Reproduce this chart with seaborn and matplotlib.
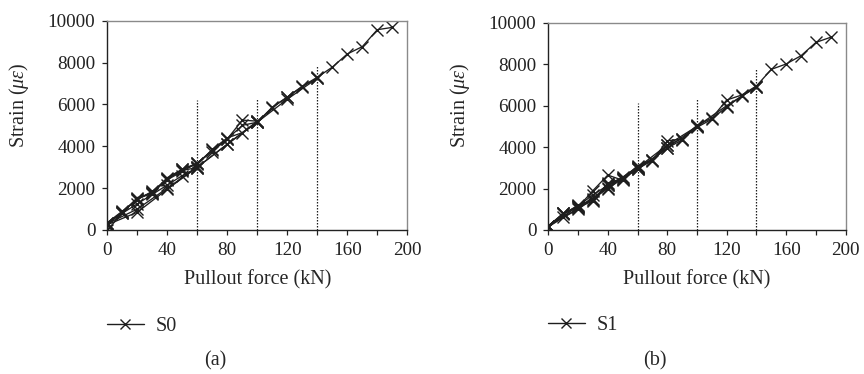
import numpy as np
import pandas as pd
import matplotlib
matplotlib.use("Agg")
import matplotlib.pyplot as plt
from matplotlib.lines import Line2D
import seaborn as sns

# loading / unloading cycles, force in kN, strain in micro-strain
f_load1 = [0, 10, 20, 30, 40, 50, 60]
f_unload1 = [60, 50, 40, 30, 20, 10, 0]
f_load2 = [0, 10, 20, 30, 40, 50, 60, 70, 80, 90, 100]
f_unload2 = [100, 80, 60, 40, 20, 0]
f_load3 = [0, 10, 20, 30, 40, 50, 60, 70, 80, 90, 100, 110, 120, 130, 140]
f_unload3 = [140, 120, 100, 80, 60, 40, 20, 0]
f_load4 = [0, 10, 20, 30, 40, 50, 60, 70, 80, 90, 100, 110, 120, 130, 140,
           150, 160, 170, 180, 190]

s0_load1 = [0, 800, 1550, 1750, 2450, 2850, 2980]
s0_unload1 = [2980, 2600, 2150, 1700, 1250, 800, 350]
s0_load2 = [350, 900, 1450, 1850, 2400, 2800, 3200, 3750, 4350, 5250, 5200]
s0_unload2 = [5200, 4100, 3000, 2000, 1000, 300]
s0_load3 = [300, 850, 1500, 1800, 2500, 2900, 3150, 3850, 4400, 4650, 5150,
            5850, 6350, 6850, 7250]
s0_unload3 = [7250, 6250, 5150, 4100, 3000, 1950, 850, 250]
s0_load4 = [250, 850, 1500, 1750, 2450, 2900, 3200, 3800, 4350, 5000, 5150,
            5870, 6350, 6870, 7300, 7780, 8410, 8760, 9570, 9680]

s1_load1 = [150, 800, 1100, 1900, 2650, 2400, 3050]
s1_unload1 = [3050, 2550, 2150, 1700, 1150, 650, 200]
s1_load2 = [200, 750, 1200, 1450, 2250, 2500, 3000, 3400, 3950, 4350, 5000]
s1_unload2 = [5000, 4100, 3000, 2050, 1050, 150]
s1_load3 = [150, 800, 1150, 1500, 2150, 2450, 2950, 3350, 4300, 4400, 4950,
            5350, 5950, 6450, 6900]
s1_unload3 = [6900, 6000, 5000, 3950, 2950, 2000, 1000, 200]
s1_load4 = [200, 800, 1100, 1400, 2200, 2450, 3100, 3400, 4100, 4400, 5050,
            5400, 6270, 6510, 6950, 7750, 8010, 8410, 9050, 9300]

# dotted marks at the unloading forces
vline_x = [60, 100, 140]
s0_vline_top = [6200, 6300, 7850]
s1_vline_top = [6150, 6320, 7830]

forces = [f_load1, f_unload1, f_load2, f_unload2, f_load3, f_unload3, f_load4]


def make_df(strains):
    rows = []
    for i, (f, s) in enumerate(zip(forces, strains)):
        for a, b in zip(f, s):
            rows.append((i, a, b))
    return pd.DataFrame(rows, columns=["seg", "force", "strain"])


df0 = make_df([s0_load1, s0_unload1, s0_load2, s0_unload2, s0_load3, s0_unload3, s0_load4])
df1 = make_df([s1_load1, s1_unload1, s1_load2, s1_unload2, s1_load3, s1_unload3, s1_load4])

sns.set_style("ticks")
plt.rcParams["font.family"] = ["Liberation Serif", "DejaVu Serif"]
plt.rcParams["mathtext.fontset"] = "custom"
plt.rcParams["mathtext.it"] = "Liberation Serif:italic"
plt.rcParams["mathtext.rm"] = "Liberation Serif"

fig = plt.figure(figsize=(8.64, 3.74), dpi=100)
ax0 = fig.add_axes([107.3 / 864, 1 - 230 / 374, 300 / 864, 209.3 / 374])
ax1 = fig.add_axes([548.3 / 864, 1 - 230 / 374, 297.4 / 864, 207.3 / 374])

lc = "#1e1e1e"
fs = 14.5
panels = [(ax0, df0, s0_vline_top, "S0", "(a)", 300, 209.3),
          (ax1, df1, s1_vline_top, "S1", "(b)", 297.4, 207.3)]
for ax, df, vtop, name, cap, wpx, hpx in panels:
    sns.lineplot(data=df, x="force", y="strain", units="seg", estimator=None,
                 sort=False, color=lc, lw=0.95, marker="x", markersize=9,
                 markeredgewidth=1.0, markeredgecolor=lc, ax=ax)
    ax.vlines(vline_x, 0, vtop, colors=lc, linestyles=(0, (1.2, 1.2)), lw=0.9)
    ax.set_xlim(0, 200)
    ax.set_ylim(0, 10000)
    ax.set_xticks(np.arange(0, 201, 40))
    ax.set_xticks(np.arange(20, 200, 40), minor=True)
    ax.set_yticks(np.arange(0, 10001, 2000))
    ax.tick_params(axis="both", labelsize=13.8, length=3.6, width=0.9, colors="#222", pad=5)
    ax.tick_params(axis="x", which="both", length=3.6, width=0.9, colors="#222", pad=5)
    ax.set_xlabel("Pullout force (kN)", fontsize=fs, labelpad=8)
    ax.set_ylabel(r"Strain ($\mu\varepsilon$)", fontsize=fs)
    ax.yaxis.set_label_coords(-76.5 / wpx, (230 - 105) / hpx)
    for sp in ["left", "bottom"]:
        ax.spines[sp].set_color("#222")
        ax.spines[sp].set_linewidth(1.0)
    for sp in ["top", "right"]:
        ax.spines[sp].set_color("#8a8a8a")
        ax.spines[sp].set_linewidth(1.0)
    h = Line2D([], [], color=lc, lw=1.0, marker="x", markersize=7, markeredgewidth=1.0)
    ax.legend([h], [name], loc="center left", bbox_to_anchor=(0, -0.46),
              frameon=False, fontsize=fs, handlelength=1.8, handletextpad=0.6,
              borderpad=0, borderaxespad=0)
    bb = ax.get_position()
    fig.text(bb.x0 + bb.width * 0.36, 1 - 361 / 374, cap, fontsize=fs,
             ha="center", va="center")

fig.savefig("out.png", dpi=100)
